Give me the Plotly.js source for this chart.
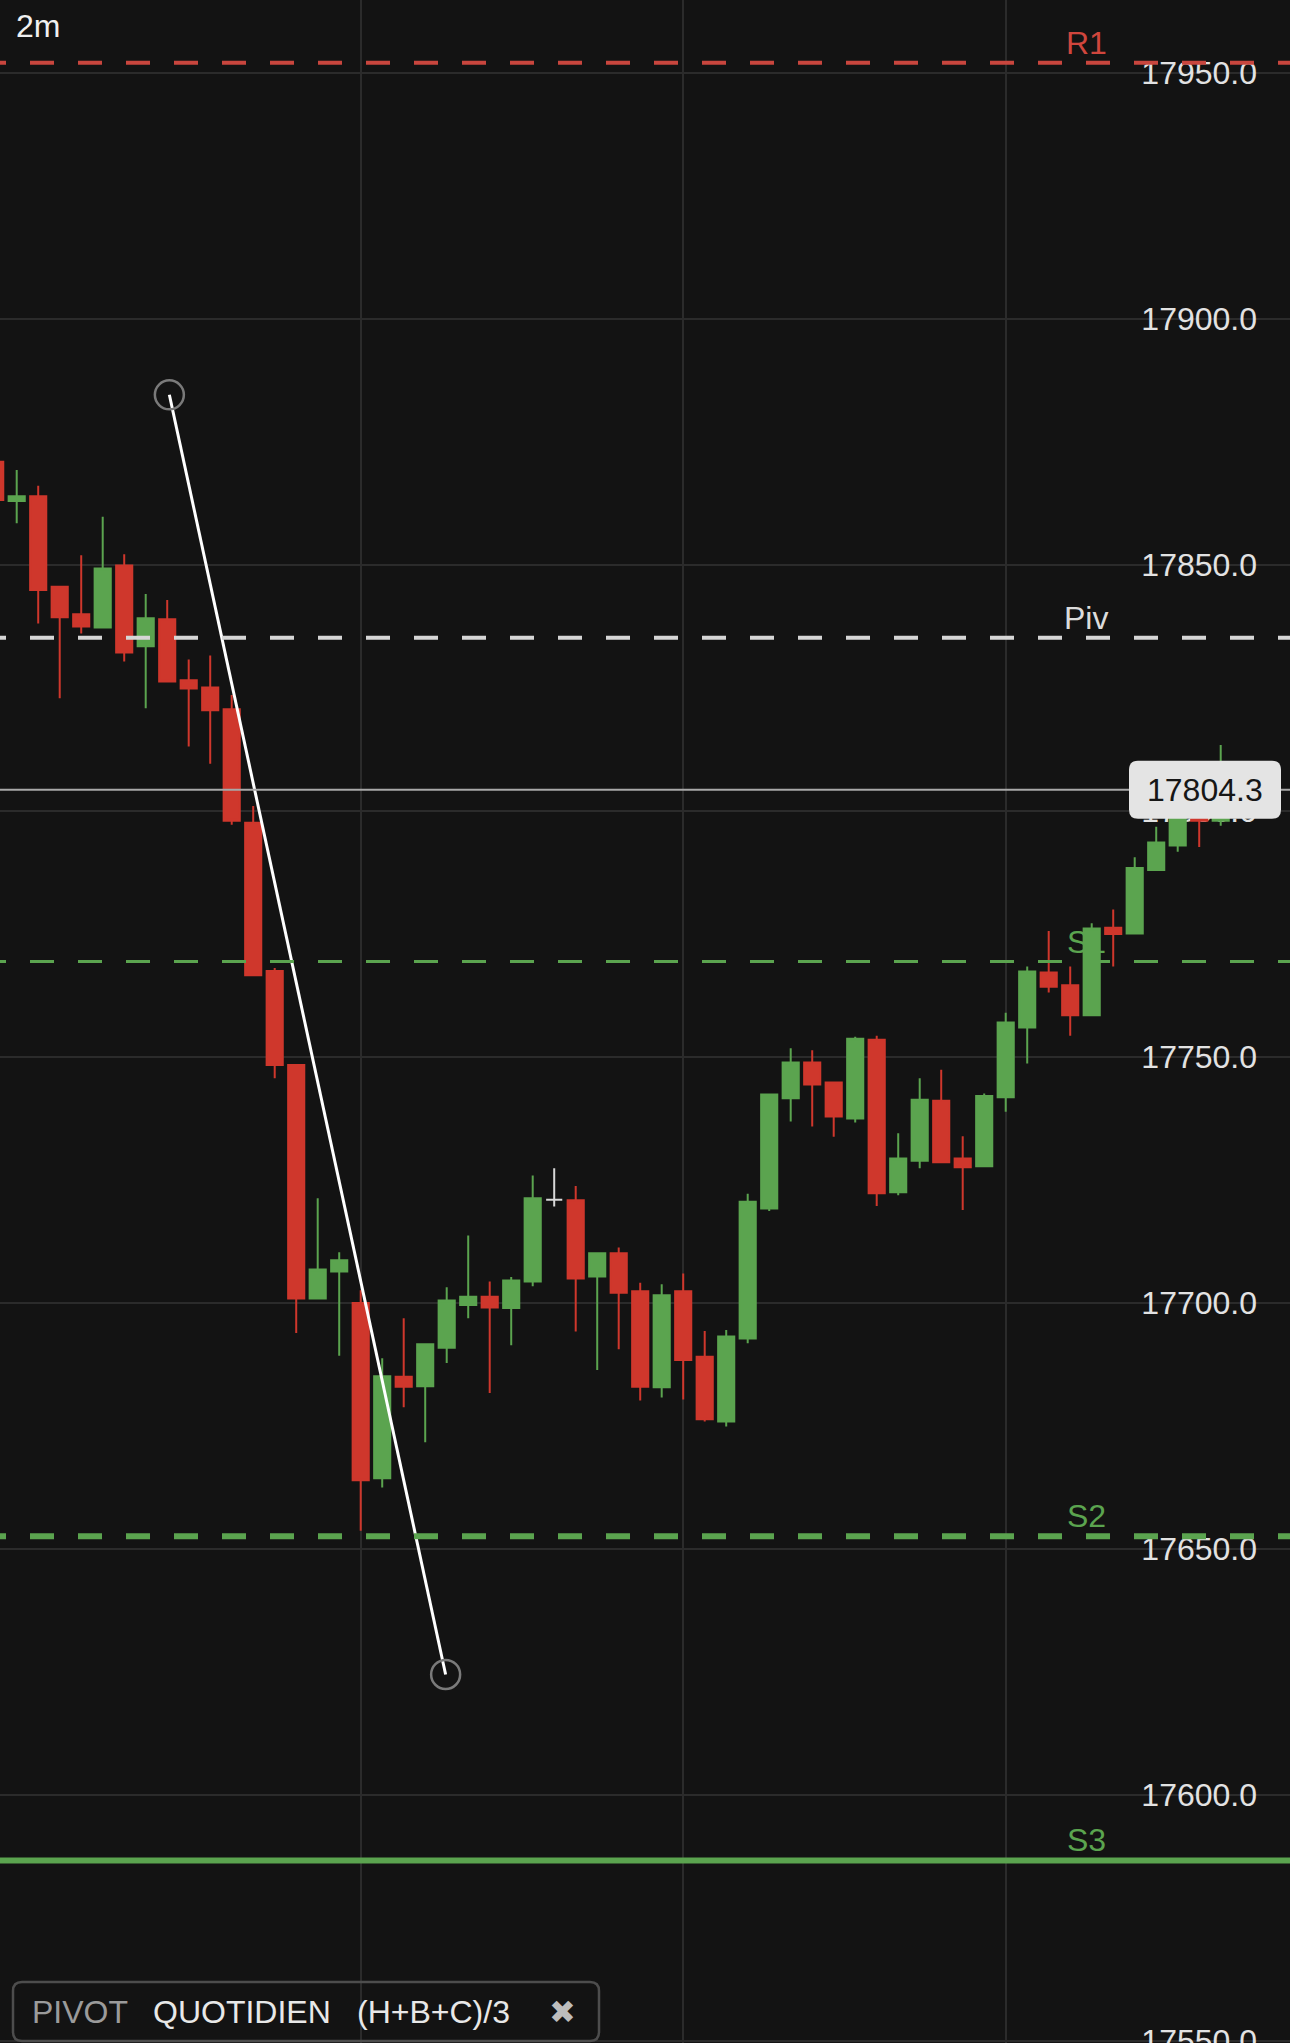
<!DOCTYPE html>
<html>
<head>
<meta charset="utf-8">
<script src="https://cdn.plot.ly/plotly-3.0.1.min.js"></script>
<style>
html, body { margin: 0; padding: 0; background: #131313; }
#chart { width: 1290px; height: 2043px; }
</style>
</head>
<body>
<div id="chart"></div>
<script>
// 2m candles, index 0 is the partly hidden one on the left edge
const opens = [17871.0, 17863.0, 17864.0, 17845.6, 17840.0, 17837.3, 17849.9, 17833.5, 17839.0, 17826.6,
    17825.1, 17820.7, 17797.6, 17767.5, 17748.4, 17700.9, 17706.4, 17700.0, 17664.4, 17685.0,
    17683.1, 17690.9, 17699.6, 17701.3, 17699.0, 17704.4, 17721.0, 17720.9, 17705.4, 17710.1,
    17702.4, 17682.9, 17702.4, 17689.1, 17675.9, 17692.8, 17719.2, 17741.6, 17748.9, 17744.8,
    17737.5, 17753.5, 17722.5, 17728.9, 17741.1, 17729.4, 17727.8, 17741.8, 17756.0, 17767.2,
    17764.6, 17758.5, 17776.3, 17775.1, 17788.0, 17793.0, 17800.5, 17798.0];
const highs = [17873.0, 17869.3, 17866.1, 17845.6, 17852.0, 17859.8, 17852.2, 17844.1, 17842.9, 17830.8,
    17831.6, 17823.6, 17801.0, 17768.1, 17748.4, 17721.3, 17710.3, 17702.6, 17688.8, 17696.9,
    17691.6, 17703.2, 17713.7, 17704.4, 17705.3, 17725.9, 17727.4, 17723.8, 17710.1, 17711.3,
    17704.1, 17703.8, 17706.0, 17694.3, 17694.5, 17722.2, 17742.4, 17751.8, 17751.4, 17744.8,
    17754.1, 17754.3, 17734.5, 17745.7, 17747.4, 17733.9, 17742.6, 17759.0, 17768.4, 17775.6,
    17768.4, 17777.2, 17780.0, 17790.6, 17796.8, 17801.0, 17802.0, 17813.4];
const lows = [17862.0, 17858.5, 17838.1, 17822.9, 17836.1, 17837.3, 17830.4, 17820.9, 17826.3, 17813.1,
    17809.6, 17797.2, 17766.6, 17745.7, 17693.9, 17700.9, 17689.3, 17653.7, 17662.5, 17678.8,
    17671.7, 17687.8, 17696.9, 17681.7, 17691.4, 17703.4, 17719.6, 17694.2, 17686.4, 17690.6,
    17680.2, 17680.8, 17680.4, 17675.9, 17674.9, 17691.8, 17718.7, 17736.9, 17735.9, 17733.8,
    17736.7, 17719.7, 17721.9, 17727.4, 17728.4, 17718.9, 17727.8, 17738.9, 17748.7, 17763.1,
    17754.3, 17758.5, 17768.4, 17775.1, 17788.0, 17791.7, 17792.7, 17797.0];
const closes = [17863.2, 17864.0, 17844.9, 17839.4, 17837.5, 17849.3, 17832.2, 17839.2, 17826.3, 17824.9,
    17820.5, 17798.0, 17766.6, 17748.4, 17700.9, 17706.8, 17708.7, 17664.0, 17685.1, 17683.0,
    17691.6, 17700.5, 17701.3, 17699.1, 17704.6, 17721.3, 17721.0, 17705.0, 17710.1, 17702.1,
    17683.0, 17701.6, 17688.4, 17676.4, 17693.2, 17720.6, 17742.4, 17748.9, 17744.4, 17737.9,
    17753.7, 17722.3, 17729.4, 17741.3, 17728.6, 17727.6, 17742.1, 17757.0, 17767.4, 17764.3,
    17758.5, 17776.1, 17775.0, 17788.4, 17793.6, 17800.0, 17798.0, 17804.3];

// daily pivot levels (H+B+C)/3
const levelNames = ["R1", "Piv", "S1", "S2", "S3"];
const levelValues = [17952.1, 17835.2, 17769.4, 17652.6, 17586.7];

// hand drawn trend line (candle index, price)
const trendX = [8.1, 20.95];
const trendY = [17884.6, 17624.5];

const RED = "#cf372c";
const GREEN = "#5ba44f";
const FONT = "Liberation Sans, Arial, sans-serif";

const levelStyles = {
    R1: { color: "#c9463e", width: 4, dash: "24px,24px", text: "#d0463d" },
    Piv: { color: "#d6d6d6", width: 4, dash: "24px,24px", text: "#dcdcdc" },
    S1: { color: "#5ba44f", width: 3, dash: "24px,24px", text: "#5ba44f" },
    S2: { color: "#5ba44f", width: 6, dash: "24px,24px", text: "#5ba44f" },
    S3: { color: "#5ba44f", width: 6, dash: "solid", text: "#5ba44f" }
};

let idx = [];
for (let i = 0; i < closes.length; i++) {
    idx.push(i);
}

// flat candles (open == close) are drawn grey on their own
function splitCandles(flat) {
    let o = [], h = [], l = [], c = [];
    for (let i = 0; i < closes.length; i++) {
        let isFlat = opens[i] === closes[i];
        if (isFlat === flat) {
            o.push(opens[i]); h.push(highs[i]); l.push(lows[i]); c.push(closes[i]);
        } else {
            o.push(null); h.push(null); l.push(null); c.push(null);
        }
    }
    return { o: o, h: h, l: l, c: c };
}

function roundRectPath(x0, y0, x1, y1, r) {
    return "M" + (x0 + r) + "," + y0 +
        " L" + (x1 - r) + "," + y0 + " Q" + x1 + "," + y0 + " " + x1 + "," + (y0 + r) +
        " L" + x1 + "," + (y1 - r) + " Q" + x1 + "," + y1 + " " + (x1 - r) + "," + y1 +
        " L" + (x0 + r) + "," + y1 + " Q" + x0 + "," + y1 + " " + x0 + "," + (y1 - r) +
        " L" + x0 + "," + (y0 + r) + " Q" + x0 + "," + y0 + " " + (x0 + r) + "," + y0 + " Z";
}

let main = splitCandles(false);
let flat = splitCandles(true);

let data = [
    {
        type: "candlestick", x: idx, open: main.o, high: main.h, low: main.l, close: main.c,
        increasing: { line: { color: GREEN, width: 2 }, fillcolor: GREEN },
        decreasing: { line: { color: RED, width: 2 }, fillcolor: RED },
        hoverinfo: "skip"
    },
    {
        type: "candlestick", x: idx, open: flat.o, high: flat.h, low: flat.l, close: flat.c,
        increasing: { line: { color: "#d8d8d8", width: 2 }, fillcolor: "#d8d8d8" },
        decreasing: { line: { color: "#d8d8d8", width: 2 }, fillcolor: "#d8d8d8" },
        hoverinfo: "skip"
    },
    {
        type: "scatter", mode: "lines", x: trendX, y: trendY,
        line: { color: "#ffffff", width: 3 }, hoverinfo: "skip"
    },
    {
        type: "scatter", mode: "markers", x: trendX, y: trendY,
        marker: { symbol: "circle-open", size: 29, color: "#7a7a7a", line: { width: 2.5, color: "#7a7a7a" } },
        hoverinfo: "skip"
    }
];

let lastPrice = closes[closes.length - 1];

let shapes = [];
let annotations = [];

// dashes start a bit left of the edge so they line up with the reference phase
for (let i = 0; i < levelNames.length; i++) {
    let st = levelStyles[levelNames[i]];
    shapes.push({
        type: "line", xref: "paper", x0: -18 / 1290, x1: 1, yref: "y", y0: levelValues[i], y1: levelValues[i],
        line: { color: st.color, width: st.width, dash: st.dash }, layer: "above"
    });
    annotations.push({
        text: levelNames[i], xref: "paper", x: 1086 / 1290, xanchor: "center",
        yref: "y", y: levelValues[i], yanchor: "bottom", yshift: 0, showarrow: false,
        font: { family: FONT, size: 32, color: st.text }
    });
}

// last price line and tag
shapes.push({
    type: "line", xref: "paper", x0: 0, x1: 1, yref: "y", y0: lastPrice, y1: lastPrice,
    line: { color: "#a9a9a9", width: 2 }, layer: "above"
});
shapes.push({
    type: "path", xref: "paper", xsizemode: "pixel", xanchor: 1,
    yref: "y", ysizemode: "pixel", yanchor: lastPrice,
    path: roundRectPath(-161, -29, -9, 29, 9),
    fillcolor: "#e4e4e4", line: { width: 0 }, layer: "above"
});
annotations.push({
    text: lastPrice.toFixed(1), xref: "paper", x: 1, xanchor: "center", xshift: -85,
    yref: "y", y: lastPrice, yanchor: "middle", showarrow: false,
    font: { family: FONT, size: 32, color: "#161616" }
});

// indicator legend box
shapes.push({
    type: "path", xref: "paper", xsizemode: "pixel", xanchor: 0,
    yref: "paper", ysizemode: "pixel", yanchor: 0,
    path: roundRectPath(13, 2, 599, 61, 9),
    fillcolor: "rgba(0,0,0,0)", line: { color: "#4d4d4d", width: 2.5 }, layer: "above"
});
let legendParts = [
    { t: "PIVOT", x: 30, c: "#9b9b9b", s: 32 },
    { t: "QUOTIDIEN", x: 151, c: "#e8e8e8", s: 32 },
    { t: "(H+B+C)/3", x: 355, c: "#e8e8e8", s: 32 },
    { t: "✖", x: 547, c: "#bdbdbd", s: 32 }
];
legendParts.forEach(function (p) {
    annotations.push({
        text: p.t, xref: "paper", x: 0, xanchor: "left", xshift: p.x,
        yref: "paper", y: 0, yanchor: "middle", yshift: 31, showarrow: false,
        font: { family: FONT, size: p.s, color: p.c }
    });
});

annotations.push({
    text: "2m", xref: "paper", x: 0, xanchor: "left", xshift: 14,
    yref: "paper", y: 1, yanchor: "top", yshift: -6, showarrow: false,
    font: { family: FONT, size: 32, color: "#f0f0f0" }
});

let layout = {
    width: 1290, height: 2043,
    margin: { l: 0, r: 0, t: 0, b: 0, pad: 0 },
    paper_bgcolor: "#131313", plot_bgcolor: "#131313",
    showlegend: false,
    boxgap: 0.25,
    boxgroupgap: 0,
    boxmode: "overlay",
    font: { family: FONT, color: "#e2e2e2" },
    xaxis: {
        range: [0.223, 60.223], tickvals: [17, 32, 47], showticklabels: false, ticks: "",
        showgrid: true, gridcolor: "#2b2b2b", gridwidth: 2, zeroline: false, showline: false,
        rangeslider: { visible: false }, fixedrange: true
    },
    yaxis: {
        range: [17549.6, 17964.84], side: "right", ticklabelposition: "inside",
        ticklabelstandoff: 30, ticklabeloverflow: "allow",
        tick0: 0, dtick: 50, tickformat: ".1f", ticks: "",
        tickfont: { family: FONT, size: 32, color: "#e2e2e2" },
        showgrid: true, gridcolor: "#2b2b2b", gridwidth: 2, zeroline: false, showline: false,
        layer: "below traces", fixedrange: true
    },
    shapes: shapes,
    annotations: annotations
};

Plotly.newPlot("chart", data, layout, { staticPlot: true, displayModeBar: false });
</script>
</body>
</html>
